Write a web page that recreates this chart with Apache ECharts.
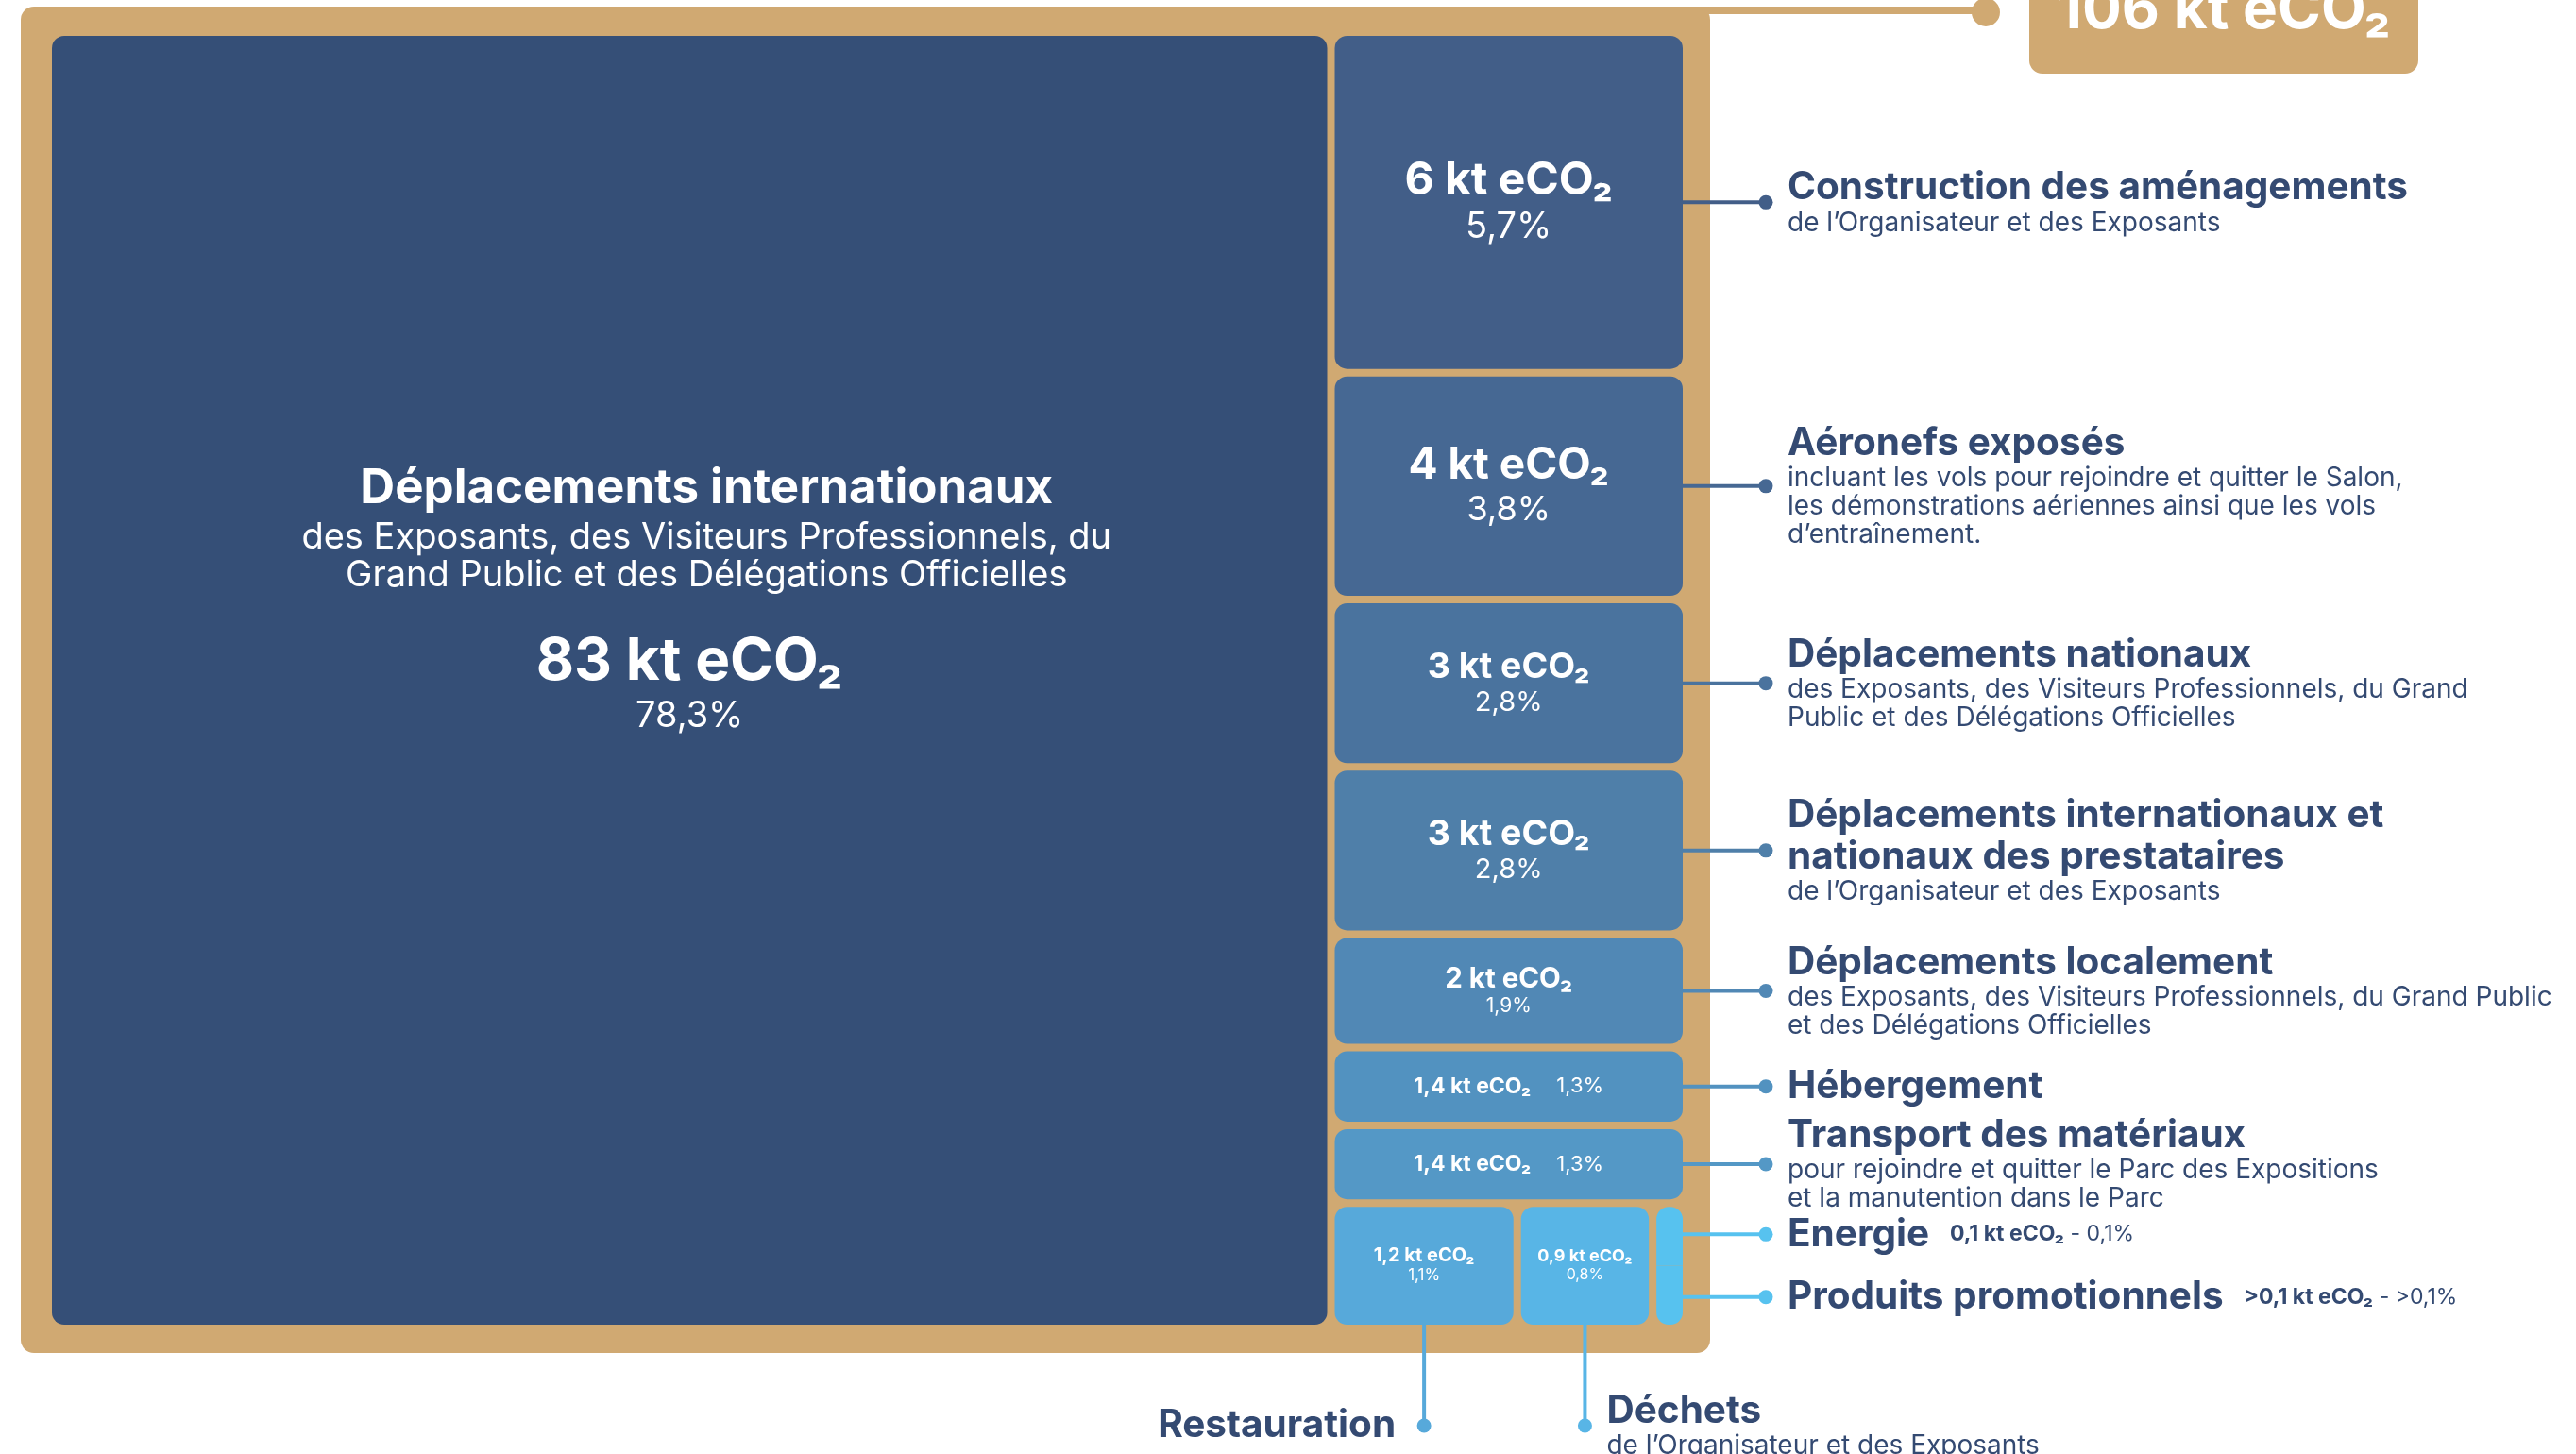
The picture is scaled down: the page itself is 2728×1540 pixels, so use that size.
<!DOCTYPE html>
<html>
<head>
<meta charset="utf-8">
<script src="https://cdn.jsdelivr.net/npm/echarts@6/dist/echarts.min.js"></script>
<style>
  html, body { margin: 0; padding: 0; background: #ffffff; }
  #chart { width: 2728px; height: 1540px; }
</style>
</head>
<body>
<div id="chart"></div>
<script>
// ---- Emission sources (kt eCO2 and share of the total footprint) ----
const categories = [
  'Déplacements internationaux',
  'Construction des aménagements',
  'Aéronefs exposés',
  'Déplacements nationaux',
  'Déplacements internationaux et nationaux des prestataires',
  'Déplacements localement',
  'Hébergement',
  'Transport des matériaux',
  'Restauration',
  'Déchets',
  'Energie',
  'Produits promotionnels'
];
const emissionsKt = [83, 6, 4, 3, 3, 2, 1.4, 1.4, 1.2, 0.9, 0.1, 0.1];
const sharePct = [78.3, 5.7, 3.8, 2.8, 2.8, 1.9, 1.3, 1.3, 1.1, 0.8, 0.1, 0.1];
const valueQualifier = ['', '', '', '', '', '', '', '', '', '', '', '>'];

// Titles as printed (with manual line breaks)
const titles = [
  'Déplacements internationaux',
  'Construction des aménagements',
  'Aéronefs exposés',
  'Déplacements nationaux',
  'Déplacements internationaux et\nnationaux des prestataires',
  'Déplacements localement',
  'Hébergement',
  'Transport des matériaux',
  'Restauration',
  'Déchets',
  'Energie',
  'Produits promotionnels'
];
const details = [
  ['des Exposants, des Visiteurs Professionnels, du', 'Grand Public et des Délégations Officielles'],
  ['de l’Organisateur et des Exposants'],
  ['incluant les vols pour rejoindre et quitter le Salon,', 'les démonstrations aériennes ainsi que les vols', 'd’entraînement.'],
  ['des Exposants, des Visiteurs Professionnels, du Grand', 'Public et des Délégations Officielles'],
  ['de l’Organisateur et des Exposants'],
  ['des Exposants, des Visiteurs Professionnels, du Grand Public', 'et des Délégations Officielles'],
  [],
  ['pour rejoindre et quitter le Parc des Expositions', 'et la manutention dans le Parc'],
  [],
  ['de l’Organisateur et des Exposants'],
  [],
  []
];

// ---- Styling ----
const FONT = 'Inter, "Noto Sans", "DejaVu Sans", sans-serif';
const NAVY = '#344A72';
const GOLD = '#D0A972';
const tileColors = ['#354F77', '#425E88', '#466893', '#4A739E', '#4F7FA9', '#5188B5',
  '#5292C0', '#5498C6', '#57A9DA', '#58B5E6', '#57C2EF', '#57C2EF'];
const tileText = [
  null,
  { kt: 48, pct: 38, mode: 'stack' },
  { kt: 46, pct: 36, mode: 'stack' },
  { kt: 37.5, pct: 29, mode: 'stack' },
  { kt: 37.5, pct: 29, mode: 'stack' },
  { kt: 29.5, pct: 21, mode: 'stack' },
  { kt: 23, pct: 22, mode: 'inline' },
  { kt: 23, pct: 22, mode: 'inline' },
  { kt: 20, pct: 17, mode: 'stack' },
  { kt: 18, pct: 16, mode: 'stack' },
  null,
  null
];
const bottomLabelSide = { 8: 'left', 9: 'right' };
const GAP = 8;
const RADIUS = 13;

// ---- Treemap layout (in percent units) ----
// main source on the left, the others stacked in a right-hand column;
// the last row is split into cells, a cell may stack several sources.
const columnRows = [[[1]], [[2]], [[3]], [[4]], [[5]], [[6]], [[7]], [[8], [9], [10, 11]]];
const MIN_CELL_SHARE = 0.09;

const sum = a => a.reduce((s, v) => s + v, 0);
const totalPct = sum(sharePct);
const columnPct = totalPct - sharePct[0];
const totalKt = Math.round(sum(emissionsKt));

const rects = [];
rects[0] = { x0: 0, x1: sharePct[0], y0: 0, y1: columnPct, first: true, last: true };
(function layout() {
  let y = 0;
  columnRows.forEach(row => {
    const cellVals = row.map(cell => sum(cell.map(t => sharePct[t])));
    const rowVal = sum(cellVals);
    const small = cellVals.map(v => v / rowVal < MIN_CELL_SHARE);
    const fixed = sum(small.map(f => f ? MIN_CELL_SHARE : 0));
    const freeVal = sum(cellVals.filter((v, i) => !small[i]));
    const shares = cellVals.map((v, i) => small[i] ? MIN_CELL_SHARE : (1 - fixed) * v / freeVal);
    let x = sharePct[0];
    row.forEach((cell, ci) => {
      const w = shares[ci] * columnPct;
      let yy = y;
      cell.forEach((t, k) => {
        const h = rowVal * sharePct[t] / cellVals[ci];
        rects[t] = { x0: x, x1: x + w, y0: yy, y1: yy + h, first: k === 0, last: k === cell.length - 1 };
        yy += h;
      });
      x += w;
    });
    y += rowVal;
  });
})();

const fmt = v => String(v).replace('.', ',');
const ktLabel = i => valueQualifier[i] + fmt(emissionsKt[i]) + ' kt eCO₂';
const pctLabel = i => valueQualifier[i] + fmt(sharePct[i]) + '%';

const richLabel = {
  h: { fontFamily: FONT, fontSize: 40.5, fontWeight: 700, lineHeight: 44, fill: NAVY },
  s: { fontFamily: FONT, fontSize: 28, fontWeight: 400, lineHeight: 30, fill: NAVY },
  v: { fontFamily: FONT, fontSize: 23, fontWeight: 700, lineHeight: 44, fill: NAVY },
  n: { fontFamily: FONT, fontSize: 23, fontWeight: 400, lineHeight: 44, fill: NAVY }
};

function calloutText(i, inlineValue) {
  const lines = titles[i].split('\n').map(t => '{h|' + t + '}');
  if (inlineValue) {
    lines[lines.length - 1] += '{v|    ' + ktLabel(i) + '}{n| - ' + pctLabel(i) + '}';
  }
  details[i].forEach(d => lines.push('{s|' + d + '}'));
  return lines.join('\n');
}

function renderTile(params, api) {
  const i = params.dataIndex;
  const r = rects[i];
  const cs = params.coordSys;
  const a = api.coord([r.x0, r.y0]);
  const b = api.coord([r.x1, r.y1]);
  const half = GAP / 2;
  const x = a[0] + half;
  const w = b[0] - a[0] - GAP;
  const y = a[1] + (r.first ? half : 0);
  const h = b[1] - a[1] - (r.first ? half : 0) - (r.last ? half : 0);
  const rad = Math.min(RADIUS, w / 2);
  const color = tileColors[i];
  const children = [{
    type: 'rect',
    shape: { x, y, width: w, height: h, r: [r.first ? rad : 0, r.first ? rad : 0, r.last ? rad : 0, r.last ? rad : 0] },
    style: { fill: color }
  }];
  const cx = x + w / 2;
  const cy = (a[1] + b[1]) / 2;

  if (i === 0) {
    const white = '#ffffff';
    const hx = cx + 18;
    children.push(
      { type: 'text', style: { x: hx, y: cy - 203, text: titles[0], fill: white, fontFamily: FONT, fontSize: 51, fontWeight: 700, align: 'center', verticalAlign: 'middle' } },
      { type: 'text', style: { x: hx, y: cy - 151, text: details[0][0], fill: white, fontFamily: FONT, fontSize: 38, fontWeight: 400, align: 'center', verticalAlign: 'middle' } },
      { type: 'text', style: { x: hx, y: cy - 111, text: details[0][1], fill: white, fontFamily: FONT, fontSize: 38, fontWeight: 400, align: 'center', verticalAlign: 'middle' } },
      { type: 'text', style: { x: cx, y: cy - 19, text: ktLabel(0), fill: white, fontFamily: FONT, fontSize: 62, fontWeight: 700, align: 'center', verticalAlign: 'middle' } },
      { type: 'text', style: { x: cx, y: cy + 38, text: pctLabel(0), fill: white, fontFamily: FONT, fontSize: 38, fontWeight: 400, align: 'center', verticalAlign: 'middle' } }
    );
    return { type: 'group', children };
  }

  const tt = tileText[i];
  if (tt) {
    const rich = {
      k: { fontFamily: FONT, fontSize: tt.kt, fontWeight: 700, fill: '#ffffff', lineHeight: tt.kt * 1.08 },
      p: { fontFamily: FONT, fontSize: tt.pct, fontWeight: 400, fill: '#ffffff', lineHeight: tt.pct * 1.2 }
    };
    let text;
    if (tt.mode === 'inline') {
      rich.p.padding = [0, 0, 0, 27];
      text = '{k|' + ktLabel(i) + '}{p|' + pctLabel(i) + '}';
    } else {
      text = '{k|' + ktLabel(i) + '}\n{p|' + pctLabel(i) + '}';
    }
    children.push({ type: 'text', style: { x: cx, y: cy, text, rich, align: 'center', verticalAlign: 'middle' } });
  }

  const gridRight = cs.x + cs.width;
  const gridBottom = cs.y + cs.height;
  const atRight = Math.abs(r.x1 - totalPct) < 1e-6;
  if (atRight) {
    const dotX = gridRight + 84;
    children.push(
      { type: 'line', shape: { x1: x + w, y1: cy, x2: dotX, y2: cy }, style: { stroke: color, lineWidth: 4 } },
      { type: 'circle', shape: { cx: dotX, cy, r: 7.5 }, style: { fill: color } },
      { type: 'text', style: { x: gridRight + 107, y: cy, text: calloutText(i, !tt), rich: richLabel, align: 'left', verticalAlign: 'middle' } }
    );
  } else if (bottomLabelSide[i]) {
    const dotY = gridBottom + 103;
    const side = bottomLabelSide[i];
    children.push(
      { type: 'line', shape: { x1: cx, y1: y + h, x2: cx, y2: dotY }, style: { stroke: color, lineWidth: 4 } },
      { type: 'circle', shape: { cx, cy: dotY, r: 7.5 }, style: { fill: color } },
      { type: 'text', style: {
          x: side === 'left' ? cx - 30 : cx + 23, y: dotY,
          text: calloutText(i, false), rich: richLabel,
          align: side === 'left' ? 'right' : 'left', verticalAlign: 'middle' } }
    );
  }
  return { type: 'group', children };
}

function renderFrame(params, api) {
  const cs = params.coordSys;
  const fx = cs.x - 29, fy = cs.y - 27;
  const fw = cs.width + 29 + 25, fh = cs.height + 27 + 26;
  const frameRight = fx + fw;
  const knobX = frameRight + 292;
  const boxX = knobX + 46, boxW = 412;
  return {
    type: 'group',
    children: [
      { type: 'rect', shape: { x: fx, y: fy, width: fw, height: fh, r: 14 }, style: { fill: GOLD } },
      { type: 'rect', shape: { x: frameRight - 20, y: fy, width: knobX - frameRight + 20, height: 8 }, style: { fill: GOLD } },
      { type: 'circle', shape: { cx: knobX, cy: fy + 6, r: 15 }, style: { fill: GOLD } },
      { type: 'rect', shape: { x: boxX, y: fy - 40, width: boxW, height: 111, r: 14 }, style: { fill: GOLD } },
      { type: 'text', style: { x: boxX + boxW / 2, y: fy + 4, text: totalKt + ' kt eCO₂', fill: '#ffffff',
          fontFamily: FONT, fontSize: 62, fontWeight: 700, align: 'center', verticalAlign: 'middle' } }
    ]
  };
}

const chart = echarts.init(document.getElementById('chart'), null, { renderer: 'canvas' });
chart.setOption({
  animation: false,
  backgroundColor: '#ffffff',
  grid: { left: 51, top: 34, width: 1735, height: 1373, containLabel: false },
  xAxis: { type: 'value', min: 0, max: totalPct, show: false },
  yAxis: { type: 'value', min: 0, max: columnPct, inverse: true, show: false },
  series: [
    {
      type: 'custom', name: 'cadre', silent: true, clip: false, z: 1,
      renderItem: renderFrame,
      data: [[0, 0]]
    },
    {
      type: 'custom', name: 'sources', silent: true, clip: false, z: 2,
      renderItem: renderTile,
      encode: { x: 1, y: 2 },
      data: categories.map((c, i) => ({ name: c, value: [i, emissionsKt[i], sharePct[i]] }))
    }
  ]
});
</script>
</body>
</html>
